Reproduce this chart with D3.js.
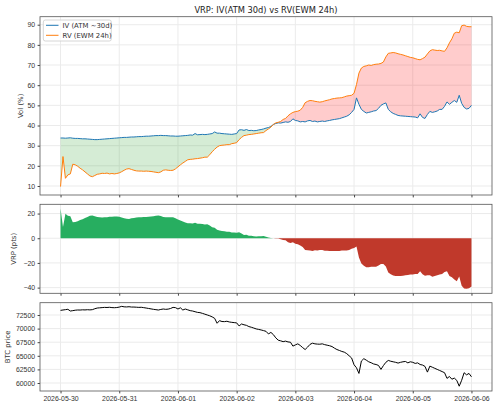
<!DOCTYPE html>
<html>
<head>
<meta charset="utf-8">
<script src="https://cdn.jsdelivr.net/npm/d3@7"></script>
<style>
  body { margin: 0; background: #fff; }
  svg { font-family: "DejaVu Sans", sans-serif; }
</style>
</head>
<body>
<div id="chart"></div>
<script>
// hourly samples, first one at 2026-05-30 00:00 UTC
startTime = Date.UTC(2026, 4, 30)

ivVals = [
  33.8, 33.8, 33.7, 33.8, 33.9, 33.7, 33.6, 33.6, 33.5, 33.4, 33.4, 33.3, 33.2, 33.1, 33.0, 33.0, 33.1, 33.2, 33.3, 33.4, 33.5, 33.6, 33.7, 33.8,
  33.9, 34.0, 34.1, 34.1, 34.2, 34.3, 34.3, 34.4, 34.5, 34.5, 34.6, 34.7, 34.7, 34.8, 34.9, 35.0, 35.0, 35.1, 35.0, 35.0, 34.9, 34.8, 34.8, 34.7,
  34.7, 34.8, 34.9, 35.0, 35.1, 35.3, 35.2, 36.0, 35.4, 35.5, 35.6, 35.5, 35.6, 35.8, 36.0, 36.8, 36.2, 36.2, 36.0, 35.9, 35.8, 35.7, 35.6, 35.8,
  36.0, 37.8, 37.9, 37.6, 38.0, 37.5, 37.6, 37.4, 37.5, 37.8, 38.0, 38.3, 38.7, 39.0, 39.5, 40.5, 41.0, 41.3, 41.2, 41.5, 41.8, 41.6, 42.0, 43.3,
  42.5, 42.3, 41.8, 42.0, 41.8, 42.3, 42.5, 42.0, 42.2, 41.8, 42.0, 42.2, 42.0, 42.3, 42.5, 42.8, 43.0, 43.2, 43.4, 43.8, 44.2, 44.6, 45.3, 46.5,
  48.0, 53.7, 50.5, 48.0, 47.0, 46.2, 46.5, 46.8, 47.2, 47.4, 48.5, 50.0, 50.7, 51.2, 48.0, 46.8, 46.0, 45.5, 45.0, 44.8, 44.7, 44.6, 44.5, 44.4,
  44.3, 44.2, 43.8, 45.8, 44.0, 43.5, 45.5, 47.0, 46.5, 46.8, 47.2, 48.0, 48.0, 49.5, 51.7, 50.5, 51.5, 52.4, 51.5, 55.0, 51.0, 49.0, 48.2, 48.5, 50.0
]

rvVals = [
  9.7, 24.6, 13.8, 15.5, 16.0, 20.8, 20.5, 19.8, 18.8, 18.0, 17.0, 16.0, 15.0, 14.6, 15.2, 15.8, 16.0, 16.3, 16.2, 16.4, 16.0, 16.2, 16.0, 16.2,
  16.5, 17.1, 17.8, 18.4, 18.6, 18.2, 17.8, 17.5, 17.4, 17.4, 17.3, 17.4, 17.3, 17.2, 17.0, 16.8, 16.6, 17.0, 17.8, 18.0, 17.8, 17.7, 17.8, 18.5,
  19.5, 20.5, 21.4, 22.2, 23.0, 23.2, 23.3, 23.5, 23.6, 23.8, 24.0, 24.3, 24.3, 25.5, 27.0, 28.2, 29.3, 30.0, 30.2, 30.3, 30.5, 30.5, 31.0, 31.2,
  31.5, 33.0, 34.1, 35.0, 35.2, 35.5, 35.6, 35.8, 36.0, 36.2, 36.4, 36.5, 37.5, 38.3, 39.2, 40.5, 41.3, 41.6, 42.0, 43.0, 43.5, 44.8, 45.8, 46.5,
  46.9, 47.1, 47.6, 49.0, 51.3, 52.0, 52.4, 52.3, 52.0, 51.8, 51.6, 51.8, 52.2, 52.5, 52.8, 53.2, 53.4, 53.6, 53.7, 53.8, 54.2, 54.6, 54.8, 55.0,
  56.0, 60.3, 66.0, 68.5, 69.3, 69.6, 70.0, 69.8, 70.2, 70.4, 70.5, 70.8, 71.5, 74.0, 75.8, 76.0, 76.2, 76.0, 75.6, 75.3, 75.0, 74.6, 74.2, 73.8,
  73.6, 73.2, 72.8, 72.6, 73.2, 73.9, 75.5, 77.0, 77.6, 77.4, 77.2, 77.3, 77.0, 76.8, 78.5, 81.0, 83.0, 85.8, 86.3, 86.0, 89.5, 89.8, 89.2, 89.0, 89.0
]

btcVals = [
  73350, 73420, 73480, 73550, 73230, 73300, 73380, 73420, 73410, 73450, 73430, 73470, 73440, 73480, 73650, 73780, 73820, 73860, 73900, 73880, 73920, 73860, 73840, 73870,
  73950, 74090, 74000, 73980, 74020, 73960, 73960, 73930, 73900, 73920, 73850, 73780, 73700, 73620, 73540, 73480, 73415, 73520, 73600, 73540, 73580, 73700, 73900, 73850,
  73600, 73820, 73415, 73600, 73450, 73300, 73230, 73100, 72980, 72930, 72800, 72650, 72500, 72350, 72150, 71890, 70980, 71460, 71300, 71280, 71350, 71220, 71150, 71100,
  71050, 70490, 70850, 70700, 70600, 70370, 70250, 70100, 69940, 69850, 69750, 69630, 69500, 69020, 69300, 68900, 68300, 67870, 67750, 67600, 67700, 67550, 67500, 66780,
  67000, 67200, 66900, 66500, 66150, 66600, 67100, 67320, 67200, 67150, 67130, 67200, 67050, 66950, 66850, 66700, 66400, 66150, 65980, 65800, 65670, 65400, 65000, 64600,
  63350, 62800, 61760, 64040, 64470, 64200, 63900, 63720, 63500, 63400, 63230, 62500, 63200, 63800, 64150, 64000, 63900, 63800, 63660, 63800, 63900, 63960, 63700, 63900,
  63800, 63600, 63700, 63400, 63300, 63050, 62000, 63100, 62900, 62700, 62500, 62300, 62100, 61890, 60850, 61200, 60700, 60900, 60480, 59410, 60500, 61890, 61500, 61760, 61140
]

dayTicks = ["2026-05-30", "2026-05-31", "2026-06-01", "2026-06-02", "2026-06-03", "2026-06-04", "2026-06-05", "2026-06-06"]
volTicks = [10, 20, 30, 40, 50, 60, 70, 80, 90]
vrpTicks = [-40, -20, 0, 20]
btcTicks = [60000, 62500, 65000, 67500, 70000, 72500]

data = ivVals.map((iv, i) => ({
  t: new Date(startTime + i * 3600e3),
  iv: iv,
  rv: rvVals[i],
  vrp: iv - rvVals[i],
  btc: btcVals[i]
}))

svg = d3.select("#chart")
  .append("svg")
  .attr("width", 500)
  .attr("height", 409)

x = d3.scaleUtc()
  .domain([new Date(startTime - 0.35 * 864e5), new Date(startTime + 7.35 * 864e5)])
  .range([40, 492])

fmtMinus = d => d < 0 ? "\u2212" + Math.abs(d) : String(d)

function panel(top, bottom, domain, ticks, label, labelX, showDates) {
  y = d3.scaleLinear().domain(domain).range([bottom, top])
  g = svg.append("g")
  // grid
  g.selectAll(".gy").data(ticks).join("line")
    .attr("x1", 40).attr("x2", 492)
    .attr("y1", d => y(d)).attr("y2", d => y(d))
    .style("stroke", "#ebebeb").style("stroke-width", 1)
  g.selectAll(".gx").data(dayTicks).join("line")
    .attr("x1", d => x(new Date(d))).attr("x2", d => x(new Date(d)))
    .attr("y1", top).attr("y2", bottom)
    .style("stroke", "#ebebeb").style("stroke-width", 1)

  ya = g.append("g")
    .attr("transform", "translate(40,0)")
    .call(d3.axisLeft(y).tickValues(ticks).tickSize(2.4).tickPadding(2.5).tickFormat(fmtMinus))
  ya.select(".domain").remove()
  ya.selectAll("text").style("font-size", "6.9px").style("fill", "#333")
  ya.selectAll("line").style("stroke", "#444")

  xa = g.append("g")
    .attr("transform", `translate(0,${bottom})`)
    .call(d3.axisBottom(x).tickValues(dayTicks.map(d => new Date(d))).tickSize(2.4).tickPadding(3)
      .tickFormat(showDates ? d3.utcFormat("%Y-%m-%d") : ""))
  xa.select(".domain").remove()
  xa.selectAll("text").style("font-size", "6.9px").style("fill", "#333")
  xa.selectAll("line").style("stroke", "#444")

  g.append("text")
    .attr("transform", `translate(${labelX},${(top + bottom) / 2}) rotate(-90)`)
    .attr("text-anchor", "middle")
    .style("font-size", "6.9px")
    .style("fill", "#333")
    .text(label)
  return y
}

function frame(top, bottom) {
  svg.append("rect")
    .attr("x", 40).attr("y", top)
    .attr("width", 452).attr("height", bottom - top)
    .style("fill", "none").style("stroke", "#555").style("stroke-width", 0.8)
}

// ---- panel 1: IV vs RV
y1 = panel(16.7, 195, [5.53, 93.97], volTicks, "Vol (%)", 23, false)

svg.append("path").datum(data)
  .attr("d", d3.area().x(d => x(d.t)).y0(d => y1(d.rv)).y1(d => y1(Math.max(d.iv, d.rv))))
  .style("fill", "rgba(44,160,44,0.2)")
svg.append("path").datum(data)
  .attr("d", d3.area().x(d => x(d.t)).y0(d => y1(d.iv)).y1(d => y1(Math.max(d.iv, d.rv))))
  .style("fill", "rgba(255,0,0,0.2)")

svg.append("path").datum(data)
  .attr("d", d3.line().x(d => x(d.t)).y(d => y1(d.iv)))
  .style("fill", "none").style("stroke", "#1f77b4").style("stroke-width", 1)
svg.append("path").datum(data)
  .attr("d", d3.line().x(d => x(d.t)).y(d => y1(d.rv)))
  .style("fill", "none").style("stroke", "#ff7f0e").style("stroke-width", 1)
frame(16.7, 195)

svg.append("text")
  .attr("x", 266).attr("y", 13.3)
  .attr("text-anchor", "middle")
  .style("font-size", "8.3px")
  .style("fill", "#222")
  .text("VRP: IV(ATM 30d) vs RV(EWM 24h)")

legend = svg.append("g")
legend.append("rect")
  .attr("x", 43.3).attr("y", 20).attr("width", 68).attr("height", 21).attr("rx", 2)
  .style("fill", "rgba(255,255,255,0.8)").style("stroke", "#ccc").style("stroke-width", 0.8)
;[["IV (ATM ~30d)", "#1f77b4"], ["RV (EWM 24h)", "#ff7f0e"]].forEach((it, i) => {
  legend.append("line")
    .attr("x1", 46).attr("x2", 58.5).attr("y1", 25.3 + i * 10).attr("y2", 25.3 + i * 10)
    .style("stroke", it[1]).style("stroke-width", 1)
  legend.append("text")
    .attr("x", 62.5).attr("y", 27.7 + i * 10)
    .style("font-size", "6.9px").style("fill", "#333")
    .text(it[0])
})

// ---- panel 2: VRP
y2 = panel(204.3, 293.3, [-44.6, 27.5], vrpTicks, "VRP (pts)", 16, false)

svg.append("path").datum(data)
  .attr("d", d3.area().x(d => x(d.t)).y0(y2(0)).y1(d => y2(Math.max(d.vrp, 0))))
  .style("fill", "#27ae60")
svg.append("path").datum(data)
  .attr("d", d3.area().x(d => x(d.t)).y0(d => y2(Math.min(d.vrp, 0))).y1(y2(0)))
  .style("fill", "#c0392b")
frame(204.3, 293.3)

// ---- panel 3: BTC price
y3 = panel(302.7, 391, [58530, 74760], btcTicks, "BTC price", 10, true)

svg.append("path").datum(data)
  .attr("d", d3.line().x(d => x(d.t)).y(d => y3(d.btc)))
  .style("fill", "none").style("stroke", "#000").style("stroke-width", 1)
frame(302.7, 391)
</script>
</body>
</html>
